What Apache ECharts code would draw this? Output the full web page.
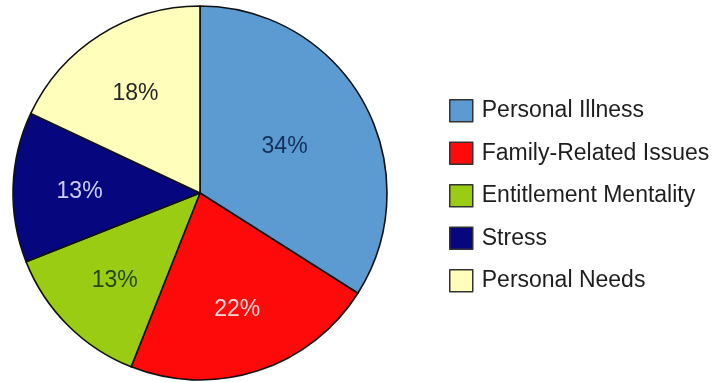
<!DOCTYPE html>
<html>
<head>
<meta charset="utf-8">
<script src="https://cdn.jsdelivr.net/npm/echarts@6/dist/echarts.min.js"></script>
<style>
  html, body { margin: 0; padding: 0; background: #fff; }
  #chart { width: 721px; height: 382px; }
</style>
</head>
<body>
<div id="chart"></div>
<script>
// Reasons for absence, share of responses (%)
const categories = ['Personal Illness', 'Family-Related Issues', 'Entitlement Mentality', 'Stress', 'Personal Needs'];
const shares = [34, 22, 13, 13, 18];
const sliceColors = ['#5b9bd2', '#ff0a0a', '#9acc14', '#06067f', '#ffffbb'];
const labelColors = ['#14305a', '#ffd6d6', '#21460e', '#cfcfff', '#262626'];
// The large slice keeps its label at the pie's mid radius; the rest sit further out.
const labelOnRing = [false, true, true, true, true];

const chart = echarts.init(document.getElementById('chart'), null, { renderer: 'canvas' });

const labelFont = {
  formatter: '{c}%',
  fontFamily: 'Liberation Sans, Arial, sans-serif',
  fontSize: 23,
  position: 'inside'
};

const pieData = categories.map((name, i) => ({
  name,
  value: shares[i],
  itemStyle: { color: sliceColors[i] },
  label: Object.assign({ show: !labelOnRing[i], color: labelColors[i] }, labelFont)
}));

// Transparent twin ring that only carries the outer percentage labels.
const labelData = categories.map((name, i) => ({
  name,
  value: shares[i],
  label: Object.assign({ show: labelOnRing[i], color: labelColors[i] }, labelFont)
}));

chart.setOption({
  animation: false,
  legend: {
    orient: 'vertical',
    left: 449,
    top: 99,
    padding: 0,
    itemWidth: 23,
    itemHeight: 22,
    itemGap: 19,
    icon: 'rect',
    selectedMode: false,
    data: categories,
    itemStyle: { borderColor: '#333', borderWidth: 1.5 },
    textStyle: {
      fontFamily: 'Liberation Sans, Arial, sans-serif',
      fontSize: 23,
      color: '#1e1e1e',
      lineHeight: 22,
      padding: [0, 0, 0, 4]
    }
  },
  series: [
    {
      type: 'pie',
      center: [200, 193],
      radius: [0, 187],
      startAngle: 90,
      clockwise: true,
      silent: true,
      labelLine: { show: false },
      itemStyle: { borderColor: '#111', borderWidth: 1.6 },
      data: pieData
    },
    {
      type: 'pie',
      center: [200, 195],
      radius: [48, 187],
      startAngle: 90,
      clockwise: true,
      silent: true,
      legendHoverLink: false,
      itemStyle: { color: 'rgba(0,0,0,0)', borderWidth: 0 },
      labelLine: { show: false },
      data: labelData
    }
  ]
});
</script>
</body>
</html>
